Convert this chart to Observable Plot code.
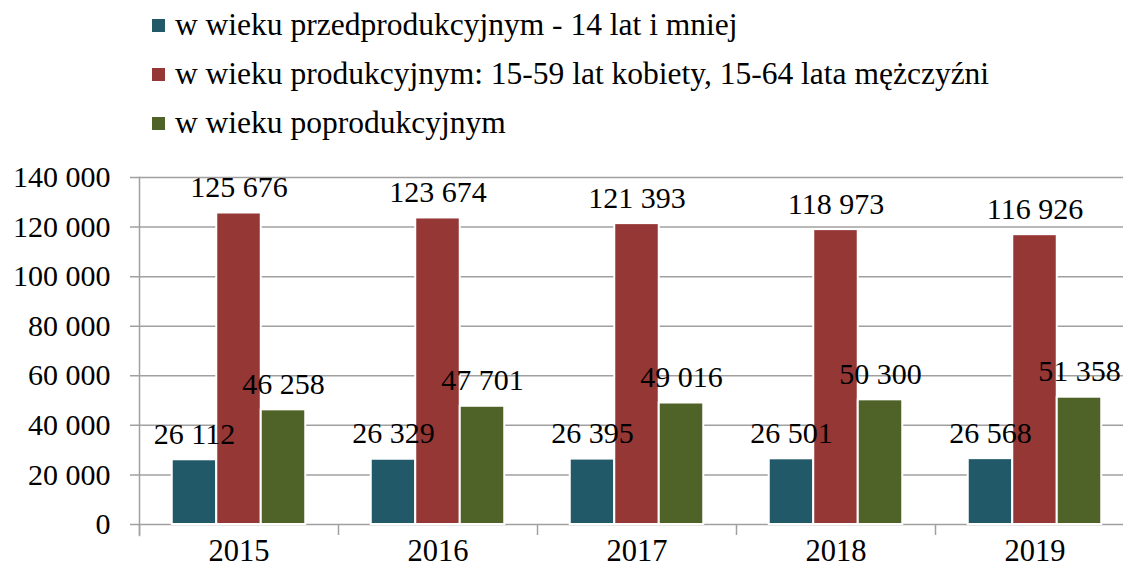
<!DOCTYPE html>
<html>
<head>
<meta charset="utf-8">
<script src="https://cdn.jsdelivr.net/npm/d3@7"></script>
<script src="https://cdn.jsdelivr.net/npm/@observablehq/plot@0.6"></script>
<style>
  html, body { margin: 0; padding: 0; background: #fff; }
  body { width: 1123px; height: 569px; position: relative; overflow: hidden; }
  #legend { position: absolute; left: 0; top: 0; width: 1123px; height: 150px; }
  .item { position: absolute; left: 152px; height: 40px; display: flex; align-items: center; font-family: "Liberation Serif", "DejaVu Serif", serif; font-size: 31.5px; color: #000; white-space: nowrap; }
  .sw { width: 13px; height: 13px; margin-right: 10px; flex: none; }
  #chart { position: absolute; left: 0; top: 150px; }
  #chart svg text { font-family: "Liberation Serif", "DejaVu Serif", serif; }
</style>
</head>
<body>
<div id="legend"></div>
<div id="chart"></div>
<script>
const years = ["2015", "2016", "2017", "2018", "2019"];
const seriesNames = [
  "w wieku przedprodukcyjnym - 14 lat i mniej",
  "w wieku produkcyjnym: 15-59 lat kobiety, 15-64 lata mężczyźni",
  "w wieku poprodukcyjnym"
];
const preProductive = [26112, 26329, 26395, 26501, 26568];
const productive = [125676, 123674, 121393, 118973, 116926];
const postProductive = [46258, 47701, 49016, 50300, 51358];
const yTicks = [0, 20000, 40000, 60000, 80000, 100000, 120000, 140000];
const colors = ["#215968", "#953735", "#4F6228"];

const seriesValues = [preProductive, productive, postProductive];
const rows = [];
seriesValues.forEach((vals, s) => vals.forEach((v, i) => rows.push({year: years[i], series: seriesNames[s], s, value: v})));

const fmt = v => d3.format(",")(v).replace(/,/g, " ");

// legend
const legend = document.getElementById("legend");
const legendTops = [5, 54, 103];
seriesNames.forEach((name, i) => {
  const el = document.createElement("div");
  el.className = "item";
  el.style.top = legendTops[i] + "px";
  el.innerHTML = `<span class="sw" style="background:${colors[i]}"></span><span>${name}</span>`;
  legend.appendChild(el);
});

const band = 199;
const barW = 44.5;
const inset = (band - barW) / 2;
const offsets = [-44.5, 0, 44.5];

const marks = [
  Plot.gridY(yTicks, {stroke: "#a0a0a0", strokeOpacity: 1, strokeWidth: 1.5, insetLeft: -9}),
  Plot.frame({anchor: "left", stroke: "#a0a0a0", strokeWidth: 1.5, insetBottom: -11}),
  Plot.ruleX(years, {x: d => d, dx: -band / 2, stroke: "#a0a0a0", strokeWidth: 1.5, insetTop: 347, insetBottom: -11}),
  Plot.axisY(yTicks, {tickSize: 0, tickPadding: 29, tickFormat: fmt, fontSize: 30, fill: "#000", label: null}),
  Plot.axisX({tickSize: 0, tickPadding: 15, fontSize: 30.5, fill: "#000", lineAnchor: "top", label: null})
];
seriesNames.forEach((name, s) => {
  marks.push(Plot.barY(rows.filter(r => r.s === s), {
    x: "year", y: "value", fill: colors[s], stroke: "#fff", strokeWidth: 2,
    dx: offsets[s], insetLeft: inset, insetRight: inset
  }));
});
seriesNames.forEach((name, s) => {
  marks.push(Plot.text(rows.filter(r => r.s === s), {
    x: "year", y: "value", text: d => fmt(d.value), dx: offsets[s], dy: -16,
    lineAnchor: "bottom", fontSize: 30, fill: "#000"
  }));
});

const chart = Plot.plot({
  width: 1123,
  height: 419,
  marginTop: 27,
  marginBottom: 45,
  marginLeft: 139,
  marginRight: 0,
  style: {fontFamily: "'Liberation Serif', 'DejaVu Serif', serif", background: "transparent", overflow: "visible"},
  x: {domain: years, range: [139, 1134], padding: 0, axis: null},
  y: {domain: [0, 140000], axis: null},
  marks
});
document.getElementById("chart").appendChild(chart);
</script>
</body>
</html>
